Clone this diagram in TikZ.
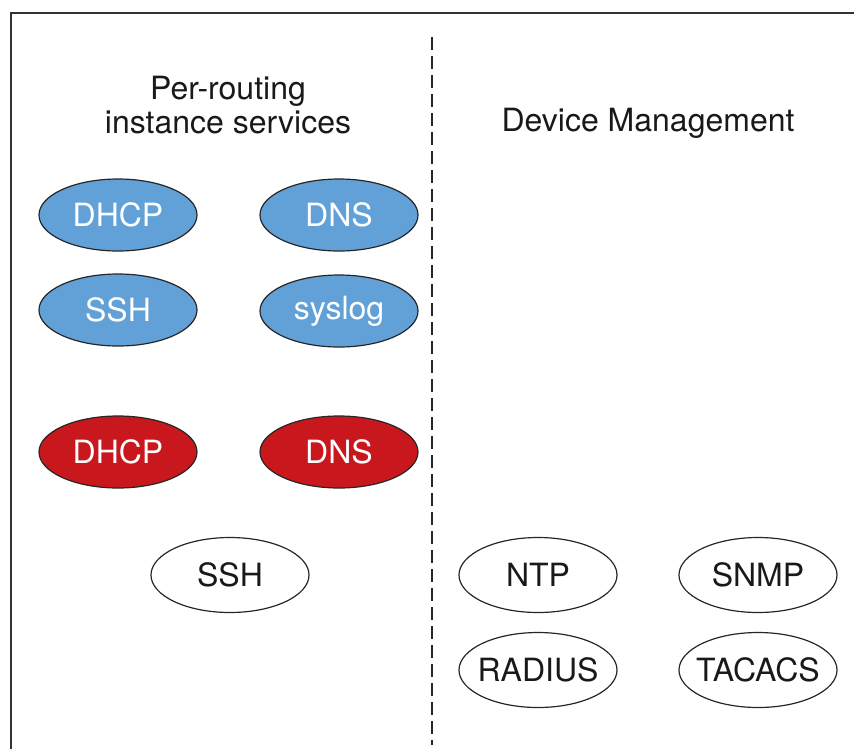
\documentclass[tikz,border=0pt]{standalone}
\usepackage{fontspec}
\setmainfont{TeX Gyre Heros}
\usetikzlibrary{shapes.geometric}
\definecolor{svcblue}{HTML}{62A1D8}
\definecolor{svcred}{HTML}{C8181E}
\begin{document}
\begin{tikzpicture}[x=1pt,y=-1pt]
\tikzset{service/.style = {shape=ellipse,draw=black!85,line width=1.2pt,minimum width=158pt,minimum height=72pt,inner xsep=-16pt,inner ysep=0pt,font=\fontsize{32}{36}\selectfont}}
\tikzset{shared/.style = {service,fill=svcblue,text=white}}
\tikzset{perinst/.style = {service,fill=svcred,text=white}}
\tikzset{mgmt/.style = {service,fill=white,text=black!90,minimum height=75pt}}
\tikzset{heading/.style = {align=center,text=black!90,font=\fontsize{32}{34}\selectfont}}
\useasboundingbox (0,0) rectangle (854,748);
\clip (0,0) rectangle (854,748);
\draw[black!80,line width=2pt] (11,13) rectangle (880,780);
\coordinate (top) at (432,37);
\coordinate (bot) at (432,745);
\draw[black!85,line width=2.8pt,dash pattern=on 13pt off 6pt] (top) -- (bot);
\node[heading](left) at (228,105) {Per-routing\\instance services};
\node[heading](right) at (648,123) {Device Management};
\node[shared](dhcpA) at (118,215) {DHCP};
\node[shared](dnsA) at (339,215) {DNS};
\node[shared](sshA) at (118,310) {SSH};
\node[shared](syslog) at (339,311) {syslog};
\node[perinst](dhcpB) at (118,452) {DHCP};
\node[perinst](dnsB) at (339,452) {DNS};
\node[mgmt](sshB) at (230,575) {SSH};
\node[mgmt](ntp) at (538,575) {NTP};
\node[mgmt](snmp) at (758,575) {SNMP};
\node[mgmt](radius) at (538,670) {RADIUS};
\node[mgmt](tacacs) at (758,670) {TACACS};
\end{tikzpicture}
\end{document}
